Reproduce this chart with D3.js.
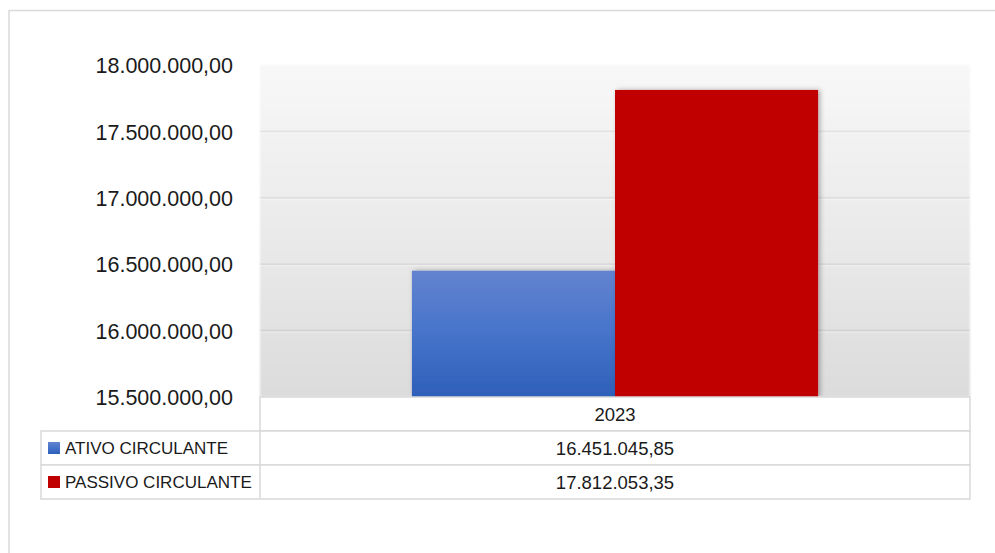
<!DOCTYPE html>
<html><head><meta charset="utf-8">
<script src="https://cdn.jsdelivr.net/npm/d3@7"></script>
<style>
html,body{margin:0;padding:0;background:#fff;}
svg{display:block;font-family:"Liberation Sans",Arial,sans-serif;}
</style></head>
<body><svg id="c" width="995" height="553"></svg>
<script>
const categories = ["2023"];
const seriesNames = ["ATIVO CIRCULANTE", "PASSIVO CIRCULANTE"];
const seriesValues = [[16451045.85], [17812053.35]];
const seriesLabels = ["16.451.045,85", "17.812.053,35"];
const yTicks = [15500000, 16000000, 16500000, 17000000, 17500000, 18000000];
const yTickLabels = ["15.500.000,00","16.000.000,00","16.500.000,00","17.000.000,00","17.500.000,00","18.000.000,00"];

const svg = d3.select("#c");
const defs = svg.append("defs");

const bg = defs.append("linearGradient").attr("id","bg").attr("x1",0).attr("y1",0).attr("x2",0).attr("y2",1);
bg.append("stop").attr("offset","0%").attr("stop-color","#f8f8f8");
bg.append("stop").attr("offset","100%").attr("stop-color","#dcdcdc");

const blue = defs.append("linearGradient").attr("id","gBlue").attr("x1",0).attr("y1",0).attr("x2",0).attr("y2",1);
blue.append("stop").attr("offset","0%").attr("stop-color","#6383cf");
blue.append("stop").attr("offset","50%").attr("stop-color","#4673ca");
blue.append("stop").attr("offset","100%").attr("stop-color","#2e60b9");

const sh = defs.append("filter").attr("id","shadow").attr("x","-10%").attr("y","-10%").attr("width","130%").attr("height","120%");
sh.append("feDropShadow").attr("dx",2).attr("dy",0).attr("stdDeviation",2.5).attr("flood-color","#000").attr("flood-opacity",0.3);

const soft = defs.append("filter").attr("id","soft").attr("x","-2%").attr("y","-5%").attr("width","104%").attr("height","110%");
soft.append("feGaussianBlur").attr("stdDeviation",1);

const fills = ["url(#gBlue)", "#c00000"];
const legendColors = ["#4472c4", "#c00000"];

// outer border
svg.append("rect").attr("x",9).attr("y",10.5).attr("width",1000).attr("height",600)
  .attr("fill","none").attr("stroke","#d9d9d9").attr("stroke-width",1.5);

const plotL = 260, plotR = 970, plotT = 65, plotB = 397;

const y = d3.scaleLinear().domain([15500000, 18000000]).range([plotB, plotT]);
const x0 = d3.scaleBand().domain(categories).range([plotL, plotR]).paddingInner(0).paddingOuter(0.374);
const x1 = d3.scaleBand().domain(seriesNames).range([0, x0.bandwidth()]).padding(0);

// plot background
svg.append("rect").attr("x",plotL).attr("y",plotT).attr("width",plotR-plotL).attr("height",plotB-plotT)
  .attr("fill","url(#bg)").attr("filter","url(#soft)");

// gridlines
const grid = svg.append("g");
yTicks.slice(1, -1).forEach(t => {
  grid.append("line").attr("x1",plotL).attr("x2",plotR).attr("y1",y(t)).attr("y2",y(t))
    .attr("stroke","rgba(0,0,0,0.06)").attr("stroke-width",2);
  grid.append("line").attr("x1",plotL).attr("x2",plotR).attr("y1",y(t)+1.5).attr("y2",y(t)+1.5)
    .attr("stroke","rgba(255,255,255,0.45)").attr("stroke-width",1);
});

// y axis labels
const yAxis = d3.axisLeft(y).tickValues(yTicks).tickSize(0).tickPadding(0)
  .tickFormat((d,i) => yTickLabels[i]);
const ya = svg.append("g").attr("transform",`translate(233,0)`).call(yAxis);
ya.select(".domain").remove();
ya.selectAll("text").attr("font-size",21.5).attr("fill","#1a1a1a")
  .attr("font-family","'Liberation Sans',Arial,sans-serif").attr("dy","0.36em");

// bars
const bars = svg.append("g");
categories.forEach((c, ci) => {
  seriesNames.forEach((s, si) => {
    const v = seriesValues[si][ci];
    bars.append("rect")
      .attr("x", x0(c) + x1(s)).attr("width", x1.bandwidth())
      .attr("y", y(v)).attr("height", y(15500000) - y(v))
      .attr("fill", fills[si]).attr("filter","url(#shadow)");
  });
});

// data table
const rowH = 34;
const tblL = 41, tblTop = plotB, lineC = "#d9d9d9";
const t = svg.append("g");
// header row (category)
t.append("rect").attr("x",plotL).attr("y",tblTop).attr("width",plotR-plotL).attr("height",rowH)
  .attr("fill","#fff").attr("stroke",lineC).attr("stroke-width",1.5);
t.selectAll("text.cat").data(categories).enter().append("text")
  .attr("x", d => x0(d) + x0.bandwidth()/2).attr("y", tblTop + rowH/2)
  .attr("dy","0.36em").attr("text-anchor","middle").attr("font-size",18.5).attr("fill","#1a1a1a")
  .text(d => d);
seriesNames.forEach((s, si) => {
  const ry = tblTop + rowH*(si+1);
  t.append("rect").attr("x",tblL).attr("y",ry).attr("width",plotR-tblL).attr("height",rowH)
    .attr("fill","#fff").attr("stroke",lineC).attr("stroke-width",1.5);
  t.append("line").attr("x1",plotL).attr("x2",plotL).attr("y1",ry).attr("y2",ry+rowH)
    .attr("stroke",lineC).attr("stroke-width",1.5);
  t.append("rect").attr("x",48).attr("y",ry+rowH/2-6).attr("width",12).attr("height",12)
    .attr("fill", si === 0 ? "url(#gBlue)" : legendColors[si]);
  t.append("text").attr("x",65).attr("y",ry+rowH/2).attr("dy","0.36em")
    .attr("font-size",17).attr("fill","#1a1a1a").text(s);
  categories.forEach((c, ci) => {
    t.append("text").attr("x", x0(c) + x0.bandwidth()/2).attr("y", ry+rowH/2).attr("dy","0.36em")
      .attr("text-anchor","middle").attr("font-size",18.5).attr("fill","#1a1a1a")
      .text(seriesLabels[si]);
  });
});
</script></body></html>
